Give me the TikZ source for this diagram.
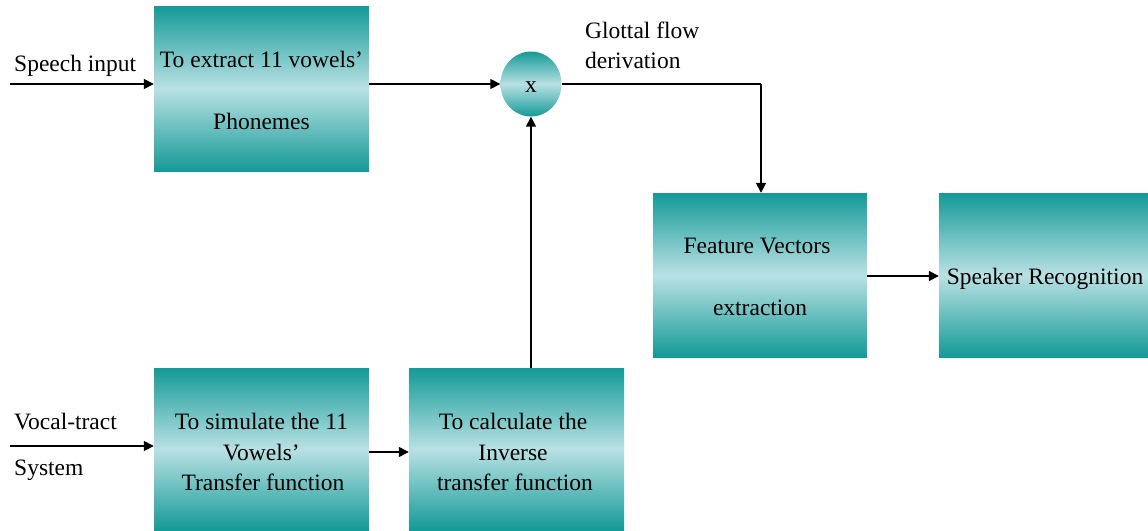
\documentclass[tikz,border=0pt]{standalone}
\usepackage{fontspec}
\setmainfont{Liberation Serif}
\usetikzlibrary{arrows.meta,shapes.geometric}
\definecolor{teal1}{HTML}{149A97}
\definecolor{lightc}{HTML}{B9E1E4}
\tikzset{
  x=1pt,y=-1pt,
  lbl/.style={inner sep=0pt, font=\fontsize{23.5}{30}\selectfont, anchor=base west},
  con/.style={line width=1.6pt, -{Triangle[length=10pt,width=10pt]}},
  plain/.style={line width=1.6pt},
  shd/.style={top color=teal1, bottom color=teal1, middle color=lightc}
}
\begin{document}
\begin{tikzpicture}
\useasboundingbox (0,0) rectangle (1148,530);
\fill[white] (0,0) rectangle (1148,530);
% boxes
\shade[shd] (154,6) rectangle (369,171);
\node[inner sep=0pt,minimum width=215pt,minimum height=165pt] (ext) at (261.5,88.5) {};
\node[lbl, anchor=base] (ext1) at (261.5,67) {To extract 11 vowels'};
\node[lbl, anchor=base] (ext2) at (261.5,129) {Phonemes};

\shade[shd] (653,193) rectangle (867,357);
\node[inner sep=0pt,minimum width=214pt,minimum height=164pt] (fv) at (760,275) {};
\node[lbl, anchor=base] (fv1) at (757,253) {Feature Vectors};
\node[lbl, anchor=base] (fv2) at (760,315) {extraction};

\shade[shd] (939,193) rectangle (1148,357);
\node[inner sep=0pt,minimum width=209pt,minimum height=164pt] (sr) at (1043.5,275) {};
\node[lbl, anchor=base] (sr1) at (1045,284) {Speaker Recognition};

\shade[shd] (154,368) rectangle (369,530);
\node[inner sep=0pt,minimum width=215pt,minimum height=162pt] (sim) at (261.5,449) {};
\node[lbl, anchor=base] (sim1) at (261.5,429) {To simulate the 11};
\node[lbl, anchor=base] (sim2) at (261.5,460) {Vowels'};
\node[lbl, anchor=base] (sim3) at (263,490) {Transfer function};

\shade[shd] (409,368) rectangle (624,530);
\node[inner sep=0pt,minimum width=215pt,minimum height=162pt] (calc) at (516.5,449) {};
\node[lbl, anchor=base] (calc1) at (513,429) {To calculate the};
\node[lbl, anchor=base] (calc2) at (513,460) {Inverse};
\node[lbl, anchor=base] (calc3) at (515,490) {transfer function};

% multiplier
\shade[shd] (531,84) ellipse (30.5 and 32.5);
\node[ellipse, inner sep=0pt, minimum width=61pt, minimum height=65pt] (mul) at (531,84) {};
\node[lbl, anchor=base] (mulx) at (531,92) {x};

% labels
\node[lbl] (sp) at (14,71) {Speech input};
\node[lbl] (vt1) at (14,429) {Vocal-tract};
\node[lbl] (vt2) at (14,475) {System};
\node[lbl] (gl1) at (585,38) {Glottal flow};
\node[lbl] (gl2) at (585,68) {derivation};

% connectors
\coordinate (spin) at (10,84);
\coordinate (vtin) at (10,446);
\coordinate (turn) at (761,84);
\draw[con] (spin) -- (ext.west |- spin);
\draw[con] (ext.east |- spin) -- (mul.west);
\draw[plain] (mul.east) -- (turn);
\draw[con] (turn) -- (fv.north -| turn);
\draw[con] (calc.north -| mul) -- (mul.south);
\draw[con] (vtin) -- (sim.west |- vtin);
\draw[con] (sim.east |- 0,452) -- (calc.west |- 0,452);
\draw[con] (fv.east |- 0,276) -- (sr.west |- 0,276);
\end{tikzpicture}
\end{document}
